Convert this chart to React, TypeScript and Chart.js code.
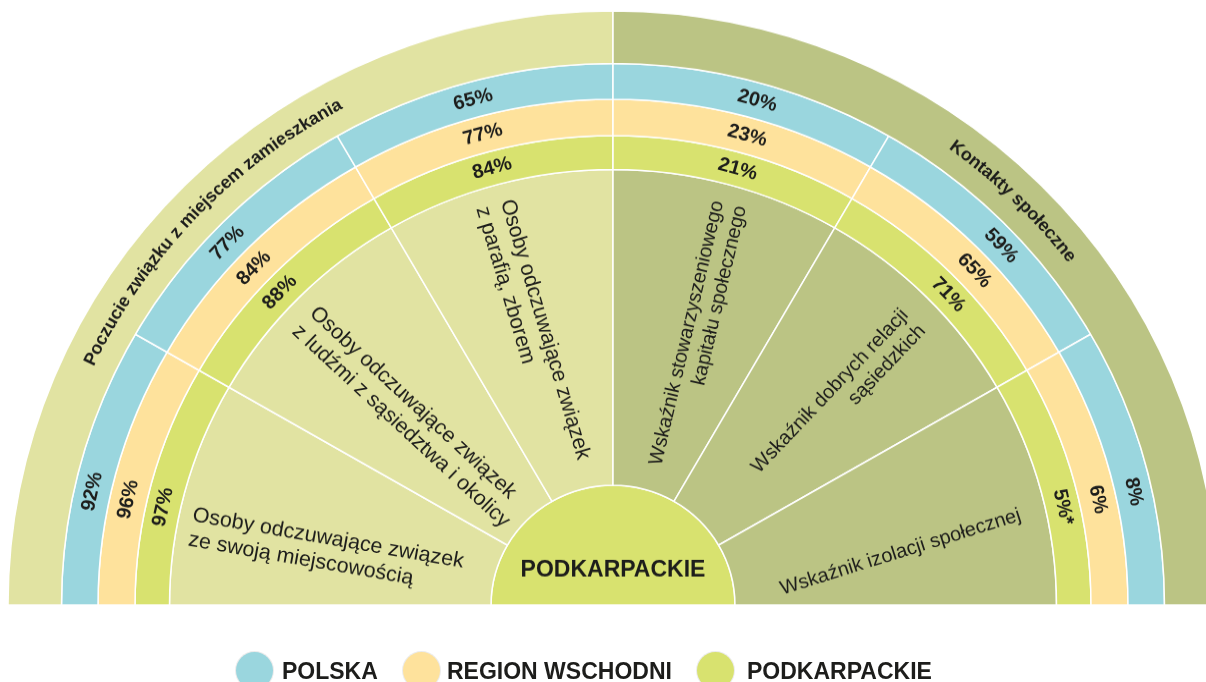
import React, { useEffect, useRef } from "react";
import { Chart, registerables } from "chart.js";

Chart.register(...registerables);

// ---------- DATA ----------
const groups = ["Poczucie związku z miejscem zamieszkania", "Kontakty społeczne"];
const categoryGroup = [0, 0, 0, 1, 1, 1];
const categoryLines = [
  ["Osoby odczuwające związek", "ze swoją miejscowością"],
  ["Osoby odczuwające związek", "z ludźmi z sąsiedztwa i okolicy"],
  ["Osoby odczuwające związek", "z parafią, zborem"],
  ["Wskaźnik stowarzyszeniowego", "kapitału społecznego"],
  ["Wskaźnik dobrych relacji", "sąsiedzkich"],
  ["Wskaźnik izolacji społecznej"],
];
const seriesNames = ["POLSKA", "REGION WSCHODNI", "PODKARPACKIE"];
const polska = [92, 77, 65, 20, 59, 8];
const regionWschodni = [96, 84, 77, 23, 65, 6];
const podkarpackie = [97, 88, 84, 21, 71, 5];
const podkarpackieNotes = ["", "", "", "", "", "*"];
const centerLabel = "PODKARPACKIE";

// ---------- STYLE / LAYOUT ----------
const C_LEFT = "#e1e3a2";
const C_RIGHT = "#bbc484";
const C_BLUE = "#9ad6de";
const C_YELLOW = "#fee29c";
const C_GREEN = "#d8e26f";
const TEXT = "#1d1d1b";
const FONT = '"Liberation Sans", Arial, Helvetica, sans-serif';
const seriesColors = [C_BLUE, C_YELLOW, C_GREEN];
const groupColors = [C_LEFT, C_RIGHT];

const RING_WEIGHTS = [53.5, 36.5, 37, 34.5, 321.5, 122];
const VALUE_SHIFT = [-2.5, -1.3, -0.2, 0.7, 1.7, 2.5];
const GROUP_SHIFT = [-1.5, -0.8];
const CAT_LAYOUT = [
  { shift: -2.7, inset: 13.5, tilt: -5 },
  { shift: 0, inset: 19, tilt: -1.7 },
  { shift: 0.5, inset: 17.5, tilt: -1.3 },
  { shift: -0.7, inset: 19, tilt: -2 },
  { shift: -0.6, inset: 26, tilt: -2 },
  { shift: 2.3, inset: 26, tilt: -2.6 },
];
const LEGEND_POS = [
  { cx: 254, tx: 282 },
  { cx: 421, tx: 447 },
  { cx: 715.5, tx: 747 },
];

const DEG = Math.PI / 180;

const infoPlugin = {
  id: "infoLabels",
  afterDatasetsDraw(chart: any) {
    const ctx = chart.ctx as CanvasRenderingContext2D;
    const meta = (i: number) => chart.getDatasetMeta(i);
    const c0 = meta(5).data[0].getProps(["x", "y"], true);
    const cx = c0.x;
    const cy = c0.y;
    ctx.save();
    ctx.fillStyle = TEXT;

    // curved group titles
    ctx.font = `bold 18px ${FONT}`;
    ctx.textAlign = "center";
    ctx.textBaseline = "middle";
    meta(0).data.forEach((arc: any, gi: number) => {
      const p = arc.getProps(["startAngle", "endAngle", "innerRadius", "outerRadius"], true);
      const r = (p.innerRadius + p.outerRadius) / 2;
      const mid = (p.startAngle + p.endAngle) / 2 + GROUP_SHIFT[gi] * DEG;
      const chars = Array.from(groups[gi]);
      const widths = chars.map((ch) => ctx.measureText(ch).width);
      const total = widths.reduce((a, b) => a + b, 0);
      let a = mid - total / (2 * r);
      chars.forEach((ch, k) => {
        const ang = a + widths[k] / (2 * r);
        ctx.save();
        ctx.translate(cx + r * Math.cos(ang), cy + r * Math.sin(ang));
        ctx.rotate(ang + Math.PI / 2);
        ctx.fillText(ch, 0, 0);
        ctx.restore();
        a += widths[k] / r;
      });
    });

    // percentage values on the rings
    const series = [polska, regionWschodni, podkarpackie];
    ctx.font = `bold 20px ${FONT}`;
    [1, 2, 3].forEach((di, s) => {
      meta(di).data.forEach((arc: any, i: number) => {
        const p = arc.getProps(["startAngle", "endAngle", "innerRadius", "outerRadius"], true);
        const r = (p.innerRadius + p.outerRadius) / 2;
        const ang = (p.startAngle + p.endAngle) / 2 + VALUE_SHIFT[i] * DEG;
        const note = s === 2 ? podkarpackieNotes[i] : "";
        ctx.save();
        ctx.translate(cx + r * Math.cos(ang), cy + r * Math.sin(ang));
        ctx.rotate(ang + Math.PI / 2);
        ctx.fillText(series[s][i] + "%" + note, 0, 0);
        ctx.restore();
      });
    });

    // category labels in the inner sectors
    meta(4).data.forEach((arc: any, i: number) => {
      const p = arc.getProps(["startAngle", "endAngle", "innerRadius", "outerRadius"], true);
      const L = CAT_LAYOUT[i];
      const mid = (p.startAngle + p.endAngle) / 2;
      const ang = mid + L.shift * DEG;
      const r = p.outerRadius - L.inset;
      const left = categoryGroup[i] === 0;
      const rot = mid + (left ? Math.PI : 0) + L.tilt * DEG;
      const size = left ? 21.5 : 20;
      const lh = left ? 25.5 : 23.5;
      ctx.save();
      ctx.translate(cx + r * Math.cos(ang), cy + r * Math.sin(ang));
      ctx.rotate(rot);
      ctx.font = `${size}px ${FONT}`;
      ctx.textAlign = left ? "left" : "right";
      ctx.textBaseline = "middle";
      categoryLines[i].forEach((line, k) => ctx.fillText(line, 0, k * lh));
      ctx.restore();
    });

    // center label
    ctx.font = `bold 23px ${FONT}`;
    ctx.textAlign = "center";
    ctx.textBaseline = "alphabetic";
    ctx.fillText(centerLabel, cx, cy - 29.5);
    ctx.restore();
  },
};

export default function App() {
  const ref = useRef<HTMLCanvasElement>(null);

  useEffect(() => {
    if (!ref.current) return;
    const ones = categoryLines.map(() => 1);
    const chart = new Chart(ref.current, {
      type: "doughnut",
      data: {
        labels: categoryLines.map((l) => l.join(" ")),
        datasets: [
          {
            label: "groups",
            data: groups.map(() => 1),
            backgroundColor: groupColors,
            weight: RING_WEIGHTS[0],
          },
          {
            label: seriesNames[0],
            data: ones,
            backgroundColor: seriesColors[0],
            weight: RING_WEIGHTS[1],
          },
          {
            label: seriesNames[1],
            data: ones,
            backgroundColor: seriesColors[1],
            weight: RING_WEIGHTS[2],
          },
          {
            label: seriesNames[2],
            data: ones,
            backgroundColor: seriesColors[2],
            weight: RING_WEIGHTS[3],
          },
          {
            label: "categories",
            data: ones,
            backgroundColor: categoryGroup.map((g) => groupColors[g]),
            weight: RING_WEIGHTS[4],
          },
          {
            label: "center",
            data: [1],
            backgroundColor: C_GREEN,
            weight: RING_WEIGHTS[5],
          },
        ] as any,
      },
      options: {
        responsive: false,
        animation: false,
        devicePixelRatio: 1,
        events: [],
        rotation: -90,
        circumference: 180,
        cutout: 0,
        radius: 605,
        layout: { padding: { left: 0, right: 0, top: 0, bottom: 77 } },
        elements: {
          arc: { borderColor: "#ffffff", borderWidth: 1.5, hoverOffset: 0 } as any,
        },
        plugins: {
          legend: { display: false },
          tooltip: { enabled: false },
          title: { display: false },
        },
      } as any,
      plugins: [infoPlugin],
    });
    return () => chart.destroy();
  }, []);

  return (
    <div
      style={{
        position: "absolute",
        left: 0,
        top: 0,
        width: 1206,
        height: 682,
        overflow: "hidden",
        background: "#ffffff",
      }}
    >
      <div
        style={{
          position: "absolute",
          left: 0,
          top: 0,
          width: 1226,
          height: 682,
          transform: "scaleY(0.982)",
          transformOrigin: "0px 605px",
        }}
      >
        <canvas ref={ref} width={1226} height={682} style={{ display: "block" }} />
      </div>
      {seriesNames.map((name, i) => (
        <React.Fragment key={name}>
          <div
            style={{
              position: "absolute",
              left: LEGEND_POS[i].cx - 18.5,
              top: 651.5,
              width: 37,
              height: 37,
              borderRadius: "50%",
              background: seriesColors[i],
              boxShadow: "0 0 0 1px rgba(0,0,0,0.08)",
            }}
          />
          <div
            style={{
              position: "absolute",
              left: LEGEND_POS[i].tx,
              top: 660,
              font: `bold 23px ${FONT}`,
              lineHeight: "23px",
              color: TEXT,
              whiteSpace: "nowrap",
            }}
          >
            {name}
          </div>
        </React.Fragment>
      ))}
    </div>
  );
}
